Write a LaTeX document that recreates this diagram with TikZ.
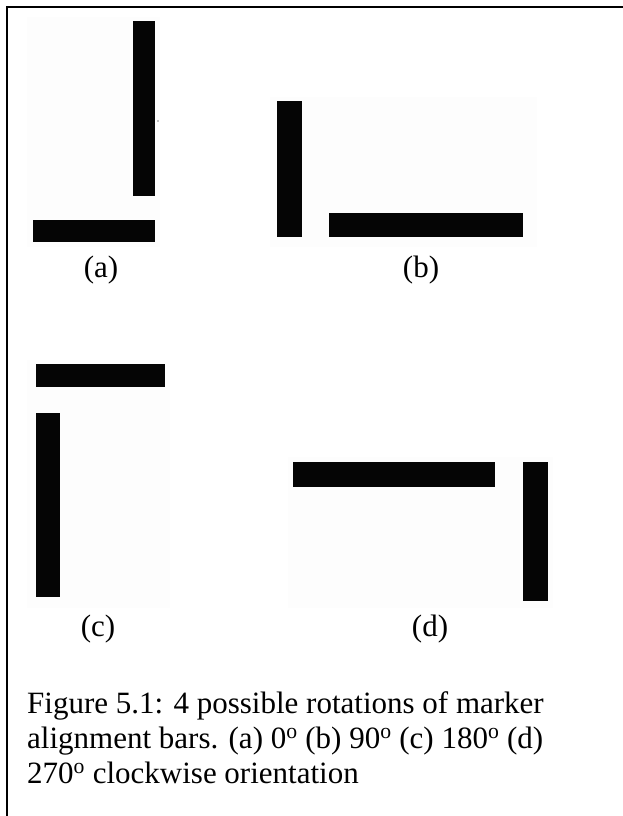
\documentclass[tikz,border=0pt]{standalone}
\usepackage{fontspec}
\setmainfont{Liberation Serif}
\newcommand{\dg}{\textsuperscript{o}}
\begin{document}
\begin{tikzpicture}[x=1pt,y=-1pt,
  bar/.style={fill=black!98},
  bgbox/.style={fill={rgb,255:red,253;green,253;blue,253}},
  lbl/.style={anchor=base,inner sep=0pt,font=\fontsize{31}{35}\selectfont},
  captext/.style={anchor=base west,inner sep=0pt,font=\fontsize{31}{35}\selectfont}]
\useasboundingbox (0,0) rectangle (623,816);
\fill[white] (0,0) rectangle (623,816);
% frame (top and left edges visible)
\draw[line width=2pt] (7,816) -- (7,7) -- (623,7);
% (a)
\fill[bgbox] (27,17) rectangle (160,247);
\fill[bar] (133,21) rectangle (155,196);
\fill[bar] (33,220) rectangle (155,242);
\fill (158,121) circle (0.7);
\node[lbl] (la) at (101,277) {(a)};
% (b)
\fill[bgbox] (270,97) rectangle (537,247);
\fill[bar] (277,101) rectangle (302,237);
\fill[bar] (329,213) rectangle (523,237);
\node[lbl] (lb) at (421,277) {(b)};
% (c)
\fill[bgbox] (27,360) rectangle (170,608);
\fill[bar] (36,364) rectangle (165,387);
\fill[bar] (36,413) rectangle (60,597);
\node[lbl] (lc) at (98,636) {(c)};
% (d)
\fill[bgbox] (288,457) rectangle (553,608);
\fill[bar] (293,462) rectangle (495,487);
\fill[bar] (523,462) rectangle (548,601);
\node[lbl] (ld) at (430,636) {(d)};
% caption
\node[captext] (c1) at (27,713) {Figure 5.1: 4 possible rotations of marker};
\node[captext] (c2) at (27,748) {alignment bars. (a) 0\dg{} (b) 90\dg{} (c) 180\dg{} (d)};
\node[captext] (c3) at (27,783) {270\dg{} clockwise orientation};
\end{tikzpicture}
\end{document}
